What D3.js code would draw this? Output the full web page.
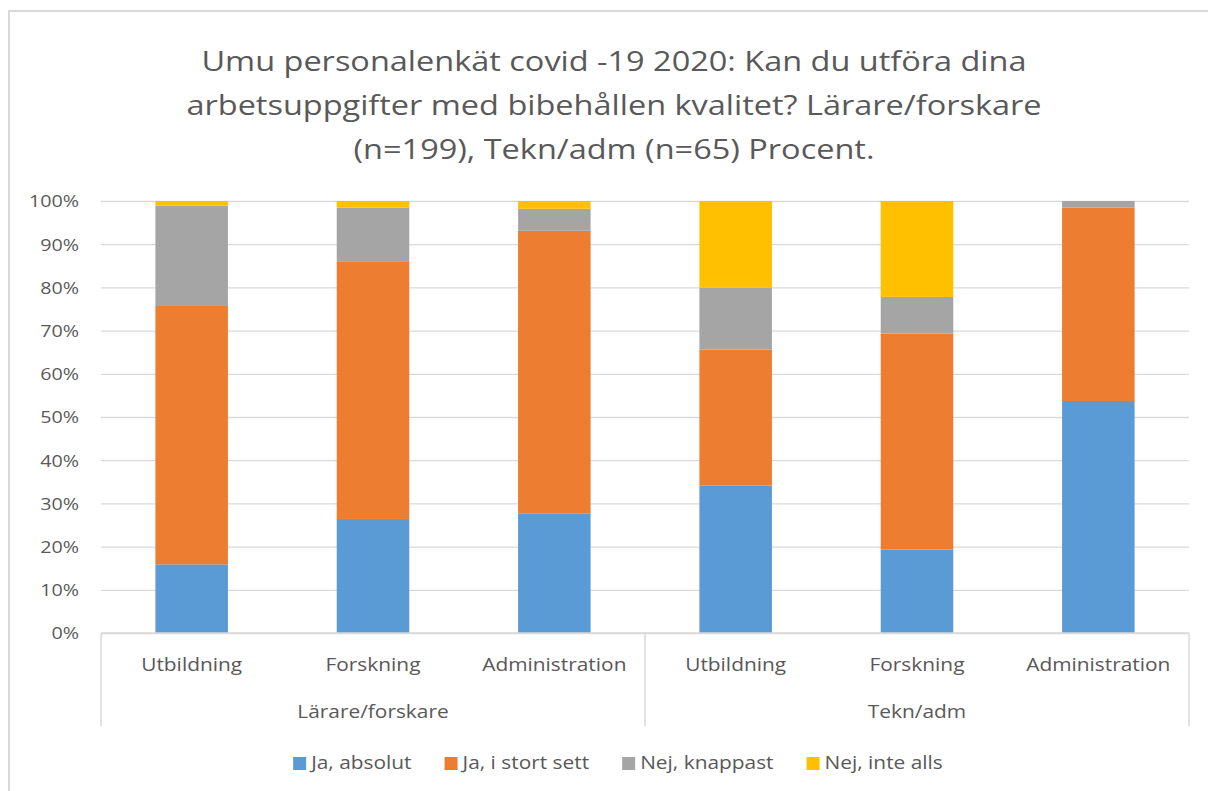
<!DOCTYPE html>
<html>
<head>
<meta charset="utf-8">
<script src="https://cdn.jsdelivr.net/npm/d3@7"></script>
<style>
  body { margin: 0; background: #fff; }
  text { font-family: "Open Sans", "Noto Sans", sans-serif; fill: #595959; }
</style>
</head>
<body>
<div class="chart"></div>
<script>
// data (percent of each bar)
var groups = ["Lärare/forskare", "Tekn/adm"];
var categories = ["Utbildning", "Forskning", "Administration"];
var seriesNames = ["Ja, absolut", "Ja, i stort sett", "Nej, knappast", "Nej, inte alls"];
var colors = ["#5B9BD5", "#ED7D31", "#A5A5A5", "#FFC000"];

var jaAbsolut   = [15.9, 26.4, 27.6, 34.1, 19.3, 53.7];
var jaStortSett = [59.8, 59.5, 65.5, 31.5, 50.0, 44.8];
var nejKnappast = [23.2, 12.6,  5.1, 14.3,  8.5,  1.5];
var nejInteAlls = [ 1.1,  1.5,  1.8, 20.1, 22.2,  0.0];

var yTicks = [0, 10, 20, 30, 40, 50, 60, 70, 80, 90, 100];

var titleLines = [
  "Umu personalenkät covid -19 2020: Kan du utföra dina",
  "arbetsuppgifter med bibehållen kvalitet? Lärare/forskare",
  "(n=199), Tekn/adm (n=65) Procent."
];

var svgWidth = 1208, svgHeight = 791;
var margin = { top: 201, right: 19, bottom: 158, left: 101 };
var width = svgWidth - margin.left - margin.right;
var height = svgHeight - margin.top - margin.bottom;

// the original text is a bit wider than Open Sans, stretch it sideways
var SX = 1.16;
function stretch(cx) {
  return `translate(${cx},0) scale(${SX},1) translate(${-cx},0)`;
}

// build rows for the stack
var rows = [];
groups.forEach(function(g, gi) {
  categories.forEach(function(c, ci) {
    var i = gi * categories.length + ci;
    rows.push({
      key: g + "|" + c, group: g, cat: c,
      s0: jaAbsolut[i], s1: jaStortSett[i], s2: nejKnappast[i], s3: nejInteAlls[i]
    });
  });
});

var svg = d3.select(".chart").append("svg")
  .attr("width", svgWidth)
  .attr("height", svgHeight);

// chart frame (only top and left edges visible in the picture)
svg.append("path")
  .attr("d", "M9,800 L9,11 L1210,11")
  .attr("fill", "none")
  .attr("stroke", "#d9d9d9")
  .attr("stroke-width", 2);

// title
svg.append("text")
  .attr("text-anchor", "middle")
  .attr("transform", stretch(614))
  .style("font-size", "28px")
  .selectAll("tspan")
  .data(titleLines)
  .enter()
  .append("tspan")
  .attr("x", 614)
  .attr("y", (d, i) => 71 + i * 44)
  .text(d => d);

var chartGroup = svg.append("g")
  .attr("transform", `translate(${margin.left}, ${margin.top})`);

var x = d3.scaleBand()
  .domain(rows.map(d => d.key))
  .range([0, width])
  .paddingInner(0.6)
  .paddingOuter(0.3);

var xGroup = d3.scaleBand()
  .domain(groups)
  .range([0, width]);

var y = d3.scaleLinear()
  .domain([0, 100])
  .range([height, 0]);

// gridlines + y labels
var yAxis = chartGroup.append("g")
  .call(d3.axisLeft(y)
    .tickValues(yTicks)
    .tickSize(-width)
    .tickPadding(22)
    .tickFormat(d => d + "%"));
yAxis.select(".domain").remove();
yAxis.selectAll("line").attr("stroke", "#d9d9d9").attr("stroke-width", 1.3);
yAxis.selectAll("text")
  .style("font-size", "17px")
  .attr("fill", "#595959")
  .attr("dy", "0.35em")
  .attr("transform", stretch(-22));

// stacked bars
var stack = d3.stack().keys(["s0", "s1", "s2", "s3"]);
var layers = stack(rows);

chartGroup.selectAll(".layer")
  .data(layers)
  .enter()
  .append("g")
  .attr("class", "layer")
  .attr("fill", (d, i) => colors[i])
  .selectAll("rect")
  .data(d => d)
  .enter()
  .append("rect")
  .attr("x", d => x(d.data.key))
  .attr("width", x.bandwidth())
  .attr("y", d => y(d[1]))
  .attr("height", d => y(d[0]) - y(d[1]));

// category axis line and dividers
chartGroup.append("line")
  .attr("x1", 0).attr("x2", width)
  .attr("y1", height).attr("y2", height)
  .attr("stroke", "#d9d9d9").attr("stroke-width", 1.5);

var dividers = [0].concat(groups.map(g => xGroup(g) + xGroup.bandwidth()));
chartGroup.selectAll(".divider")
  .data(dividers)
  .enter()
  .append("line")
  .attr("class", "divider")
  .attr("x1", d => d).attr("x2", d => d)
  .attr("y1", height).attr("y2", height + 93)
  .attr("stroke", "#d9d9d9").attr("stroke-width", 1.5);

// category labels
chartGroup.selectAll(".cat-label")
  .data(rows)
  .enter()
  .append("text")
  .attr("class", "cat-label")
  .attr("x", d => x(d.key) + x.bandwidth() / 2)
  .attr("y", height + 38)
  .attr("text-anchor", "middle")
  .attr("transform", d => stretch(x(d.key) + x.bandwidth() / 2))
  .style("font-size", "18px")
  .text(d => d.cat);

// group labels
chartGroup.selectAll(".group-label")
  .data(groups)
  .enter()
  .append("text")
  .attr("class", "group-label")
  .attr("x", d => xGroup(d) + xGroup.bandwidth() / 2)
  .attr("y", height + 85)
  .attr("text-anchor", "middle")
  .attr("transform", d => stretch(xGroup(d) + xGroup.bandwidth() / 2))
  .style("font-size", "18px")
  .text(d => d);

// legend, centred
var legend = svg.append("g");
var items = legend.selectAll(".item")
  .data(seriesNames)
  .enter()
  .append("g")
  .attr("class", "item");

items.append("rect")
  .attr("width", 13).attr("height", 13)
  .attr("y", -12)
  .attr("fill", (d, i) => colors[i]);

items.append("text")
  .attr("x", 18)
  .attr("transform", stretch(18))
  .style("font-size", "18px")
  .text(d => d);

var xpos = 0;
items.each(function() {
  var w = d3.select(this).select("text").node().getComputedTextLength() * SX;
  d3.select(this).attr("transform", `translate(${xpos}, 0)`);
  xpos += 18 + w + 33;
});
var legendWidth = xpos - 33;
legend.attr("transform", `translate(${618 - legendWidth / 2}, 769)`);
</script>
</body>
</html>
